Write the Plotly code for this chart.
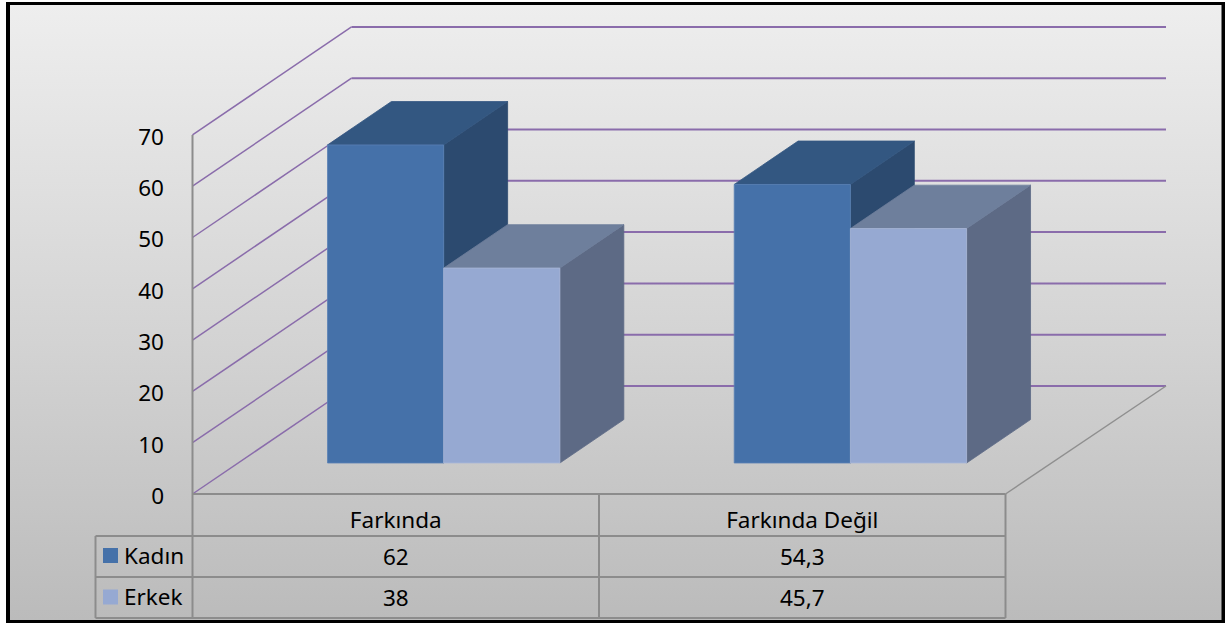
import plotly.graph_objects as go

# ---- data ----
categories = ["Farkında", "Farkında Değil"]
series_names = ["Kadın", "Erkek"]
kadin = [62, 54.3]
erkek = [38, 45.7]
kadin_labels = ["62", "54,3"]
erkek_labels = ["38", "45,7"]
y_ticks = [0, 10, 20, 30, 40, 50, 60, 70]

# ---- layout constants (the pseudo-3D projection of an Excel chart) ----
W, H = 1225, 623
PX_PER_UNIT = 5.13
Y0_PX = 494
FONT = "Noto Sans"


def yv(px):
    """value-axis coordinate of a pixel row"""
    return (Y0_PX - px) / PX_PER_UNIT


DX, DY = 159, 108 / PX_PER_UNIT      # full depth of the floor
WALL_X, FLOOR_END, BACK_END = 192.5, 1005.5, 1166
BAR_W = 116.2
BAR_D = 0.287                         # front of the bars, as share of depth
BAR_DEPTH = 0.402                     # depth of the bars, as share of depth
GROUP_X = [327.5, 734.2]

fig = go.Figure()


def poly(pts, color, edge=None):
    xs = [p[0] for p in pts] + [pts[0][0]]
    ys = [p[1] for p in pts] + [pts[0][1]]
    fig.add_trace(go.Scatter(x=xs, y=ys, mode="lines", fill="toself", fillcolor=color,
                             line=dict(color=edge or color, width=0.8), hoverinfo="skip"))


# frame + graded background
fig.add_trace(go.Scatter(x=[6, W, W, 6, 6], y=[yv(2), yv(2), yv(H), yv(H), yv(2)], mode="lines",
                         fill="toself", fillcolor="#000000", line=dict(width=0), hoverinfo="skip"))
fig.add_trace(go.Scatter(x=[10, 1221.5, 1221.5, 10, 10], y=[yv(5), yv(5), yv(620), yv(620), yv(5)],
                         mode="lines", fill="toself",
                         fillgradient=dict(type="vertical",
                                           colorscale=[[0, "#bbbbbb"], [0.45, "#d3d3d3"], [1, "#eeeeee"]]),
                         line=dict(width=0), hoverinfo="skip"))

# grid on left wall and back wall
GRID = "#8a6cab"
for v in y_ticks:
    fig.add_trace(go.Scatter(x=[WALL_X, WALL_X + DX], y=[v, v + DY], mode="lines",
                             line=dict(color=GRID, width=1.5), hoverinfo="skip"))
    fig.add_trace(go.Scatter(x=[WALL_X + DX, BACK_END], y=[v + DY, v + DY], mode="lines",
                             line=dict(color=GRID, width=2), hoverinfo="skip"))

# floor edge on the right
fig.add_trace(go.Scatter(x=[FLOOR_END, BACK_END], y=[0, DY], mode="lines",
                         line=dict(color="#8f8f8f", width=1.5), hoverinfo="skip"))

# bars
front_base = BAR_D * DY
dx, dy = BAR_DEPTH * DX, BAR_DEPTH * DY
styles = [("#4571a9", "#2c4a6f", "#335781", "#5a82b5"),
          ("#96a9d2", "#5d6a85", "#6e7f9c", "#a9b8d8")]
for g in range(len(categories)):
    for s, values in enumerate((kadin, erkek)):
        x0 = GROUP_X[g] + s * BAR_W
        x1 = x0 + BAR_W
        top = values[g] + front_base
        front, side, upper, edge = styles[s]
        poly([(x1, front_base), (x1 + dx, front_base + dy), (x1 + dx, top + dy), (x1, top)], side)
        poly([(x0, top), (x0 + dx, top + dy), (x1 + dx, top + dy), (x1, top)], upper)
        poly([(x0, front_base), (x1, front_base), (x1, top), (x0, top)], front, edge)

# data table rules
RULE = "#8c8c8c"
ROW_PX = [494, 536, 577, 618]
TABLE_L = 95.5


def rule(xs, ys, w=2):
    fig.add_trace(go.Scatter(x=xs, y=ys, mode="lines", line=dict(color=RULE, width=w), hoverinfo="skip"))


rule([WALL_X, WALL_X], [y_ticks[-1], yv(ROW_PX[3])])
rule([WALL_X, FLOOR_END], [0, 0])
for r in ROW_PX[1:]:
    rule([TABLE_L, FLOOR_END], [yv(r), yv(r)])
rule([TABLE_L, TABLE_L], [yv(ROW_PX[1]), yv(ROW_PX[3])])
rule([FLOOR_END, FLOOR_END], [0, yv(ROW_PX[3])])
MID_X = (WALL_X + FLOOR_END) / 2
rule([MID_X, MID_X], [0, yv(ROW_PX[3])])

# table text
COL_X = [(WALL_X + MID_X) / 2, (MID_X + FLOOR_END) / 2]
TEXT_SIZE = 22.5
fig.add_trace(go.Scatter(x=COL_X, y=[yv(522)] * 2, text=categories, mode="text",
                         textfont=dict(family=FONT, size=TEXT_SIZE, color="#000000"), hoverinfo="skip"))
fig.add_trace(go.Scatter(x=COL_X, y=[yv(559)] * 2, text=kadin_labels, mode="text",
                         textfont=dict(family=FONT, size=TEXT_SIZE, color="#000000"), hoverinfo="skip"))
fig.add_trace(go.Scatter(x=COL_X, y=[yv(600)] * 2, text=erkek_labels, mode="text",
                         textfont=dict(family=FONT, size=TEXT_SIZE, color="#000000"), hoverinfo="skip"))
fig.add_trace(go.Scatter(x=[110.5, 110.5], y=[yv(555.5), yv(597)], mode="markers",
                         marker=dict(symbol="square", size=15, color=[styles[0][0], styles[1][0]]), hoverinfo="skip"))
fig.add_trace(go.Scatter(x=[124, 124], y=[yv(558), yv(599)], text=series_names, mode="text",
                         textposition="middle right",
                         textfont=dict(family=FONT, size=TEXT_SIZE, color="#000000"), hoverinfo="skip"))

fig.update_layout(
    width=W, height=H, margin=dict(l=0, r=0, t=0, b=0, pad=0),
    paper_bgcolor="#ffffff", plot_bgcolor="rgba(0,0,0,0)", showlegend=False,
    xaxis=dict(range=[0, W], visible=False, fixedrange=True),
    yaxis=dict(range=[yv(H), yv(0)], anchor="free", position=WALL_X / W, side="left",
               tickvals=y_ticks, ticktext=[str(v) for v in y_ticks],
               ticks="outside", ticklen=24, tickcolor="rgba(0,0,0,0)", ticklabelshift=2,
               showgrid=False, zeroline=False, showline=False, fixedrange=True,
               tickfont=dict(family=FONT, size=TEXT_SIZE, color="#000000")),
)
fig.write_html("out.html", config=dict(displayModeBar=False),
               post_script="document.body.style.margin='0';document.body.style.overflow='hidden';")
